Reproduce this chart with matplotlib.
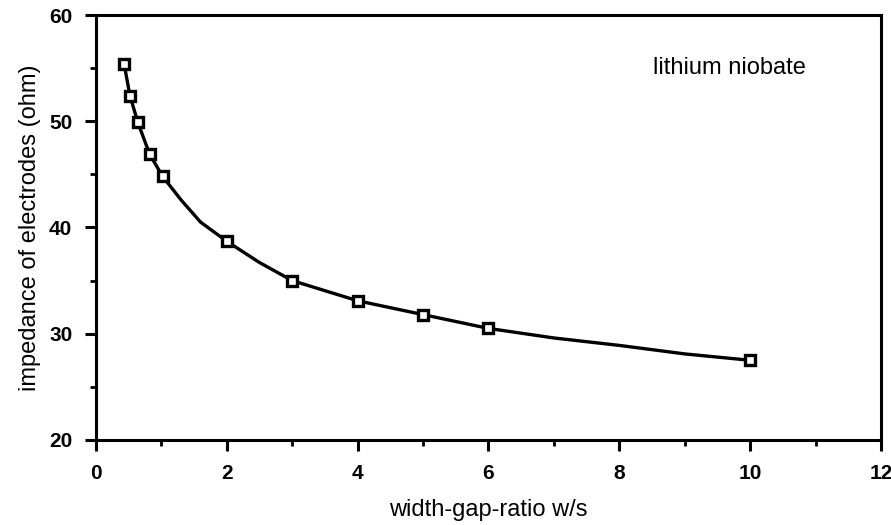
import numpy as np
import matplotlib
matplotlib.use("Agg")
import matplotlib.pyplot as plt
from matplotlib.ticker import MultipleLocator

# --- measured impedance vs. width/gap ratio ---
ratio = [0.43, 0.52, 0.64, 0.82, 1.02, 2.0, 3.0, 4.0, 5.0, 6.0, 10.0]
impedance = [55.4, 52.4, 49.9, 46.9, 44.8, 38.7, 35.0, 33.1, 31.8, 30.5, 27.5]

# --- hand-drawn trend line through the measurements ---
curve_x = [0.43, 0.52, 0.64, 0.82, 1.02, 1.3, 1.6, 2.0, 2.5, 3.0, 4.0, 5.0, 6.0, 7.0, 8.0, 9.0, 10.0]
curve_y = [55.4, 52.4, 49.9, 46.9, 44.8, 42.6, 40.5, 38.7, 36.7, 35.0, 33.1, 31.8, 30.5, 29.6, 28.9, 28.1, 27.5]

plt.rcParams['font.family'] = ['Liberation Sans', 'DejaVu Sans']

fig = plt.figure(figsize=(8.91, 5.25), dpi=100)
ax = fig.add_axes([0.1077, 0.162, 0.881, 0.8094])

ax.plot(curve_x, curve_y, color='black', lw=2.4, zorder=2, solid_capstyle='round')
ax.plot(ratio, impedance, linestyle='none', marker='s', markersize=7.5,
        markerfacecolor='white', markeredgecolor='black', markeredgewidth=2.4, zorder=3)

ax.set_xlim(0, 12)
ax.set_ylim(20, 60)
ax.xaxis.set_major_locator(MultipleLocator(2))
ax.xaxis.set_minor_locator(MultipleLocator(1))
ax.yaxis.set_major_locator(MultipleLocator(10))
ax.yaxis.set_minor_locator(MultipleLocator(5))

for s in ax.spines.values():
    s.set_linewidth(2.2)
ax.tick_params(which='major', direction='out', length=8, width=2.2, labelsize=15, pad=9)
ax.tick_params(which='minor', direction='out', length=4, width=2.0)
for lbl in ax.get_xticklabels() + ax.get_yticklabels():
    lbl.set_fontweight('bold')

ax.set_xlabel('width-gap-ratio w/s', fontsize=17, labelpad=12)
ax.set_ylabel('impedance of electrodes (ohm)', fontsize=17, labelpad=6)
ax.text(0.905, 0.875, 'lithium niobate', transform=ax.transAxes,
        fontsize=17, ha='right', va='center')

fig.savefig('out.png', dpi=100)
